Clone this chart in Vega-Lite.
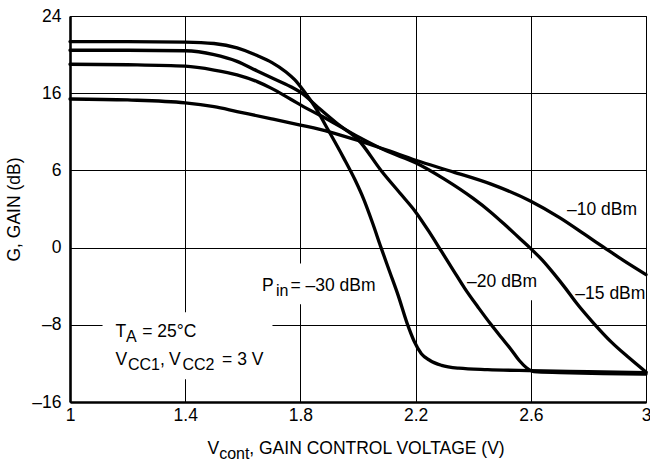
{
  "$schema": "https://vega.github.io/schema/vega-lite/v6.json",
  "width": 576,
  "height": 386,
  "autosize": {"type": "none"},
  "padding": {"left": 70, "top": 16, "right": 4, "bottom": 62},
  "background": "white",
  "config": {
    "view": {"stroke": "black", "strokeWidth": 1},
    "font": "Liberation Sans",
    "axis": {
      "grid": true,
      "gridColor": "black",
      "gridOpacity": 1,
      "gridWidth": 1,
      "ticks": false,
      "domainColor": "black",
      "domainWidth": 2.6,
      "labelFont": "Liberation Sans",
      "labelFontSize": 17.5,
      "labelColor": "black",
      "labelFlush": false,
      "labelOverlap": false,
      "titleFont": "Liberation Sans",
      "titleFontSize": 17.5,
      "titleFontWeight": "normal",
      "titleColor": "black"
    }
  },
  "datasets": {
    "curves": [
      {"pin": "-30", "v": 1.00, "g": 21.35},
      {"pin": "-30", "v": 1.20, "g": 21.35},
      {"pin": "-30", "v": 1.40, "g": 21.3},
      {"pin": "-30", "v": 1.50, "g": 21.15},
      {"pin": "-30", "v": 1.58, "g": 20.7},
      {"pin": "-30", "v": 1.65, "g": 19.9},
      {"pin": "-30", "v": 1.70, "g": 19.2},
      {"pin": "-30", "v": 1.75, "g": 18.2},
      {"pin": "-30", "v": 1.78, "g": 17.4},
      {"pin": "-30", "v": 1.81, "g": 16.3},
      {"pin": "-30", "v": 1.85, "g": 14.6},
      {"pin": "-30", "v": 1.90, "g": 12.0},
      {"pin": "-30", "v": 1.95, "g": 9.3},
      {"pin": "-30", "v": 1.99, "g": 7.0},
      {"pin": "-30", "v": 2.02, "g": 5.0},
      {"pin": "-30", "v": 2.05, "g": 2.6},
      {"pin": "-30", "v": 2.08, "g": 0.0},
      {"pin": "-30", "v": 2.11, "g": -2.5},
      {"pin": "-30", "v": 2.14, "g": -5.0},
      {"pin": "-30", "v": 2.17, "g": -7.8},
      {"pin": "-30", "v": 2.195, "g": -9.7},
      {"pin": "-30", "v": 2.22, "g": -11.0},
      {"pin": "-30", "v": 2.25, "g": -11.7},
      {"pin": "-30", "v": 2.29, "g": -12.2},
      {"pin": "-30", "v": 2.35, "g": -12.5},
      {"pin": "-30", "v": 2.45, "g": -12.65},
      {"pin": "-30", "v": 2.6, "g": -12.75},
      {"pin": "-30", "v": 2.8, "g": -12.85},
      {"pin": "-30", "v": 3.0, "g": -12.95},
      {"pin": "-20", "v": 1.00, "g": 20.45},
      {"pin": "-20", "v": 1.20, "g": 20.45},
      {"pin": "-20", "v": 1.40, "g": 20.4},
      {"pin": "-20", "v": 1.50, "g": 20.0},
      {"pin": "-20", "v": 1.58, "g": 19.3},
      {"pin": "-20", "v": 1.65, "g": 18.3},
      {"pin": "-20", "v": 1.70, "g": 17.6},
      {"pin": "-20", "v": 1.765, "g": 16.7},
      {"pin": "-20", "v": 1.80, "g": 16.1},
      {"pin": "-20", "v": 1.87, "g": 14.3},
      {"pin": "-20", "v": 1.93, "g": 12.8},
      {"pin": "-20", "v": 2.00, "g": 11.2},
      {"pin": "-20", "v": 2.08, "g": 8.0},
      {"pin": "-20", "v": 2.15, "g": 5.5},
      {"pin": "-20", "v": 2.20, "g": 3.7},
      {"pin": "-20", "v": 2.25, "g": 1.5},
      {"pin": "-20", "v": 2.29, "g": -0.4},
      {"pin": "-20", "v": 2.33, "g": -2.3},
      {"pin": "-20", "v": 2.37, "g": -4.2},
      {"pin": "-20", "v": 2.42, "g": -6.3},
      {"pin": "-20", "v": 2.46, "g": -7.9},
      {"pin": "-20", "v": 2.50, "g": -9.4},
      {"pin": "-20", "v": 2.53, "g": -10.5},
      {"pin": "-20", "v": 2.56, "g": -11.7},
      {"pin": "-20", "v": 2.585, "g": -12.45},
      {"pin": "-20", "v": 2.61, "g": -12.85},
      {"pin": "-20", "v": 2.7, "g": -12.95},
      {"pin": "-20", "v": 2.85, "g": -13.05},
      {"pin": "-20", "v": 3.0, "g": -13.1},
      {"pin": "-15", "v": 1.00, "g": 19.0},
      {"pin": "-15", "v": 1.20, "g": 18.95},
      {"pin": "-15", "v": 1.40, "g": 18.8},
      {"pin": "-15", "v": 1.50, "g": 18.4},
      {"pin": "-15", "v": 1.58, "g": 17.9},
      {"pin": "-15", "v": 1.65, "g": 17.2},
      {"pin": "-15", "v": 1.70, "g": 16.5},
      {"pin": "-15", "v": 1.765, "g": 15.4},
      {"pin": "-15", "v": 1.83, "g": 14.3},
      {"pin": "-15", "v": 1.90, "g": 13.2},
      {"pin": "-15", "v": 2.00, "g": 11.5},
      {"pin": "-15", "v": 2.10, "g": 10.0},
      {"pin": "-15", "v": 2.20, "g": 8.8},
      {"pin": "-15", "v": 2.30, "g": 7.1},
      {"pin": "-15", "v": 2.40, "g": 5.1},
      {"pin": "-15", "v": 2.46, "g": 3.7},
      {"pin": "-15", "v": 2.52, "g": 2.1},
      {"pin": "-15", "v": 2.56, "g": 1.0},
      {"pin": "-15", "v": 2.60, "g": -0.1},
      {"pin": "-15", "v": 2.64, "g": -1.3},
      {"pin": "-15", "v": 2.68, "g": -2.7},
      {"pin": "-15", "v": 2.72, "g": -4.2},
      {"pin": "-15", "v": 2.76, "g": -5.8},
      {"pin": "-15", "v": 2.82, "g": -7.9},
      {"pin": "-15", "v": 2.88, "g": -9.8},
      {"pin": "-15", "v": 2.94, "g": -11.4},
      {"pin": "-15", "v": 3.00, "g": -12.9},
      {"pin": "-10", "v": 1.00, "g": 15.4},
      {"pin": "-10", "v": 1.20, "g": 15.3},
      {"pin": "-10", "v": 1.40, "g": 15.0},
      {"pin": "-10", "v": 1.50, "g": 14.6},
      {"pin": "-10", "v": 1.58, "g": 14.1},
      {"pin": "-10", "v": 1.70, "g": 13.35},
      {"pin": "-10", "v": 1.80, "g": 12.7},
      {"pin": "-10", "v": 1.90, "g": 12.0},
      {"pin": "-10", "v": 2.00, "g": 11.1},
      {"pin": "-10", "v": 2.10, "g": 10.1},
      {"pin": "-10", "v": 2.20, "g": 9.05},
      {"pin": "-10", "v": 2.33, "g": 7.85},
      {"pin": "-10", "v": 2.46, "g": 6.6},
      {"pin": "-10", "v": 2.60, "g": 4.8},
      {"pin": "-10", "v": 2.70, "g": 3.1},
      {"pin": "-10", "v": 2.80, "g": 1.1},
      {"pin": "-10", "v": 2.85, "g": 0.1},
      {"pin": "-10", "v": 2.92, "g": -1.3},
      {"pin": "-10", "v": 3.00, "g": -2.8}
    ],
    "boxes": [
      {"x1": 1.113, "x2": 1.703, "y1": -6.7, "y2": -13.64},
      {"x1": 1.644, "x2": 2.06, "y1": -1.65, "y2": -5.87},
      {"x1": 2.362, "x2": 2.636, "y1": -1.1, "y2": -5.45}
    ],
    "labels": [
      {"kind": "main", "text": "T", "x": 1.158, "y": -9.26},
      {"kind": "sub", "text": "A", "x": 1.1944, "y": -9.26},
      {"kind": "main", "text": "= 25°C", "x": 1.2506, "y": -9.26},
      {"kind": "main", "text": "V", "x": 1.158, "y": -12.19},
      {"kind": "sub", "text": "CC1", "x": 1.2012, "y": -12.19},
      {"kind": "main", "text": ",", "x": 1.3125, "y": -12.19},
      {"kind": "main", "text": "V", "x": 1.344, "y": -12.19},
      {"kind": "sub", "text": "CC2", "x": 1.3905, "y": -12.19},
      {"kind": "main", "text": "= 3 V", "x": 1.528, "y": -12.19},
      {"kind": "main", "text": "P", "x": 1.667, "y": -4.52},
      {"kind": "sub", "text": "in", "x": 1.715, "y": -4.52},
      {"kind": "main", "text": "= –30 dBm", "x": 1.7654, "y": -4.52},
      {"kind": "main", "text": "–20 dBm", "x": 2.3787, "y": -4.07},
      {"kind": "main", "text": "–15 dBm", "x": 2.7546, "y": -5.3},
      {"kind": "main", "text": "–10 dBm", "x": 2.7258, "y": 3.36},
      {"kind": "main", "text": "V", "x": 1.4773, "y": -21.42},
      {"kind": "sub", "text": "cont", "x": 1.518, "y": -21.42},
      {"kind": "main", "text": ", GAIN CONTROL VOLTAGE (V)", "x": 1.6225, "y": -21.42}
    ]
  },
  "layer": [
    {
      "data": {"name": "boxes"},
      "mark": {"type": "rect", "color": "white", "opacity": 1},
      "encoding": {
        "x": {"field": "x1", "type": "quantitative", "scale": {"domain": [1, 3], "nice": false, "zero": false},
          "axis": {"values": [1, 1.4, 1.8, 2.2, 2.6, 3], "title": null, "labelPadding": 4, "labelExpr": "'' + datum.value"}},
        "x2": {"field": "x2"},
        "y": {"field": "y1", "type": "quantitative", "scale": {"domain": [-16, 24], "nice": false, "zero": false},
          "axis": {"values": [-16, -8, 0, 8, 16, 24], "title": "G, GAIN (dB)", "labelPadding": 9, "titleX": -47, "titleY": 193,
            "labelExpr": "datum.value == 8 ? '6' : (datum.value < 0 ? '–' + (-datum.value) : '' + datum.value)"}},
        "y2": {"field": "y2"}
      }
    },
    {
      "data": {"name": "curves"},
      "mark": {"type": "line", "color": "black", "strokeWidth": 3.3, "interpolate": "monotone", "strokeCap": "round", "strokeJoin": "round"},
      "encoding": {
        "x": {"field": "v", "type": "quantitative"},
        "y": {"field": "g", "type": "quantitative"},
        "detail": {"field": "pin"}
      }
    },
    {
      "data": {"name": "labels"},
      "transform": [{"filter": "datum.kind == 'main'"}],
      "mark": {"type": "text", "align": "left", "baseline": "alphabetic", "fontSize": 17.5, "color": "black", "font": "Liberation Sans"},
      "encoding": {
        "x": {"field": "x", "type": "quantitative"},
        "y": {"field": "y", "type": "quantitative"},
        "text": {"field": "text"}
      }
    },
    {
      "data": {"name": "labels"},
      "transform": [{"filter": "datum.kind == 'sub'"}],
      "mark": {"type": "text", "align": "left", "baseline": "alphabetic", "fontSize": 16, "dy": 5, "color": "black", "font": "Liberation Sans"},
      "encoding": {
        "x": {"field": "x", "type": "quantitative"},
        "y": {"field": "y", "type": "quantitative"},
        "text": {"field": "text"}
      }
    }
  ]
}
